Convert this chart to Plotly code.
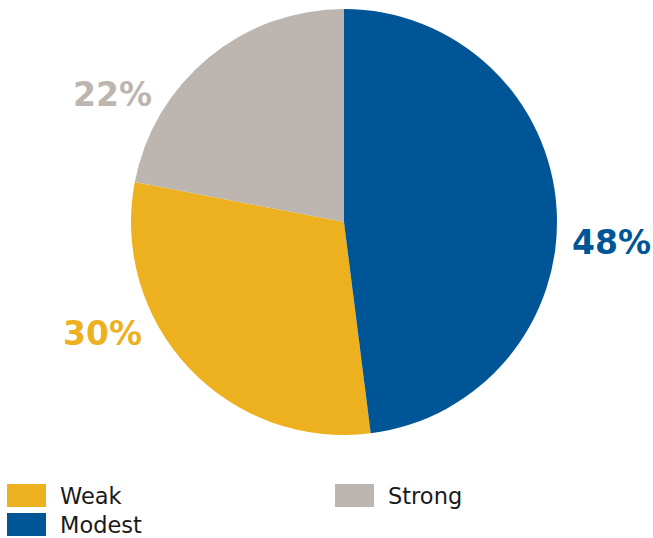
import plotly.graph_objects as go

# Slice data, listed in legend order (Weak, Strong, Modest)
labels = ["Weak", "Strong", "Modest"]
values = [30, 22, 48]
colors = ["#EDB11F", "#BDB6B0", "#005596"]

W, H = 653, 538

# Pie starts with Weak; rotate so Modest sits at 12 o'clock going clockwise
start_rotation = 360 * values[2] / sum(values)

fig = go.Figure(
    go.Pie(
        labels=labels,
        values=values,
        sort=False,
        direction="clockwise",
        rotation=start_rotation,
        marker=dict(colors=colors, line=dict(width=0)),
        textinfo="none",
        hoverinfo="label+percent",
        showlegend=False,
        domain=dict(x=[131 / W, 557 / W], y=[1 - 435 / H, 1 - 9 / H]),
    )
)

# Percentage labels placed beside each slice
label_pos = {"Modest": (611, 243), "Weak": (102, 333), "Strong": (112, 95)}
total = sum(values)
for lab, val, col in zip(labels, values, colors):
    px, py = label_pos[lab]
    fig.add_annotation(
        x=px / W, y=1 - py / H, xref="paper", yref="paper",
        text=f"<b>{round(100 * val / total)}%</b>",
        showarrow=False,
        font=dict(family="DejaVu Sans", size=33, color=col),
        xanchor="center", yanchor="middle",
    )

# Legend drawn as swatches with text
legend_pos = {"Weak": (7, 484), "Modest": (7, 513), "Strong": (335, 484)}
for lab, col in zip(labels, colors):
    lx, ly = legend_pos[lab]
    fig.add_shape(
        type="rect", xref="paper", yref="paper",
        x0=lx / W, x1=(lx + 39) / W, y0=1 - (ly + 23) / H, y1=1 - ly / H,
        fillcolor=col, line=dict(width=0),
    )
    fig.add_annotation(
        x=(lx + 51) / W, y=1 - (ly + 11.5) / H, xref="paper", yref="paper",
        text=lab, showarrow=False,
        font=dict(family="DejaVu Sans", size=22.5, color="#1a1a1a"),
        xanchor="left", yanchor="middle",
    )

fig.update_layout(
    width=W, height=H,
    margin=dict(l=0, r=0, t=0, b=0),
    paper_bgcolor="white", plot_bgcolor="white",
)

fig.write_html("out.html")
